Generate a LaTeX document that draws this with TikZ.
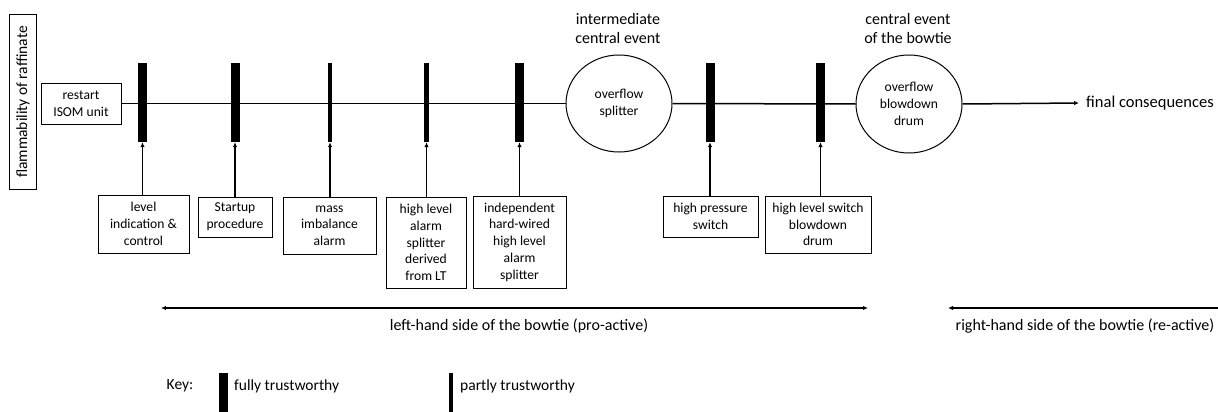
\documentclass[tikz,border=0pt]{standalone}
\usepackage{fontspec}
\setmainfont{Carlito}
\usetikzlibrary{shapes.geometric,arrows.meta}
\tikzset{
  boxtxt/.style={draw, line width=1pt, align=center, inner sep=0pt,
    font=\fontsize{13.6}{16.7}\selectfont},
  thickbar/.style={fill=black, draw=none, minimum width=9pt, minimum height=79pt, inner sep=0pt},
  thinbar/.style={fill=black, draw=none, minimum width=4.5pt, minimum height=79pt, inner sep=0pt},
  event/.style={draw, line width=1pt, ellipse, minimum width=106pt, minimum height=97pt,
    inner sep=0pt, align=center, font=\fontsize{13.6}{16.7}\selectfont},
  bigtxt/.style={align=center, inner sep=0pt, font=\fontsize{16}{18.7}\selectfont},
  mainln/.style={line width=1.5pt},
  arr/.style={line width=1.2pt, -{Latex[length=5pt,width=4.5pt]}},
  dblarr/.style={line width=1.5pt, {Latex[length=5pt,width=4.5pt]}-{Latex[length=5pt,width=4.5pt]}},
}
\begin{document}
\begin{tikzpicture}[x=1pt,y=-1pt]
\useasboundingbox (0,0) rectangle (1218,412);
% left boxes
\node[boxtxt, rotate=90, minimum width=174pt, minimum height=27.5pt,
  font=\fontsize{15.5}{18}\selectfont] (flam) at (23,102) {flammability of raffinate};
\node[boxtxt, minimum width=80pt, minimum height=41pt] (restart) at (81,103.5) {restart\\ISOM unit};
% events
\node[event] (split) at (619,103.5) {overflow\\splitter};
\node[event, minimum height=98pt] (drum) at (909,104) {overflow\\blowdown\\drum};
\node[bigtxt] (h1) at (618,28.5) {intermediate\\central event};
\node[bigtxt] (h2) at (908,28.5) {central event\\of the bowtie};
\node[bigtxt, anchor=west, inner xsep=7pt, font=\fontsize{16.5}{18.7}\selectfont] (final) at (1079,103) {final consequences};
% main line
\draw[mainln] (restart.east) -- (split.west);
\draw[mainln] (split.east) -- (drum.west);
\draw[arr, line width=1.5pt] (drum.east) -- (final.west);
% barriers
\node[thickbar] (bar1) at (142.5,102.5) {};
\node[thickbar] (bar2) at (235,102.5) {};
\node[thinbar]  (bar3) at (330,102.5) {};
\node[thinbar]  (bar4) at (426.5,102.5) {};
\node[thickbar] (bar5) at (519.5,102.5) {};
\node[thickbar] (bar6) at (710,102.5) {};
\node[thickbar] (bar7) at (820.5,102.5) {};
% barrier boxes
\node[boxtxt, minimum width=91pt, minimum height=58pt] (b1) at (143.5,224) {level\\indication \&\\control};
\node[boxtxt, minimum width=74pt, minimum height=40pt] (b2) at (235,217) {Startup\\procedure};
\node[boxtxt, minimum width=93pt, minimum height=57pt] (b3) at (329.5,225.5) {mass\\imbalance\\alarm};
\node[boxtxt, minimum width=80pt, minimum height=91pt] (b4) at (426,242.5) {high level\\alarm\\splitter\\derived\\from LT};
\node[boxtxt, minimum width=93pt, minimum height=92pt] (b5) at (519.5,242) {independent\\hard-wired\\high level\\alarm\\splitter};
\node[boxtxt, minimum width=95pt, minimum height=41pt] (b6) at (710.5,216.5) {high pressure\\switch};
\node[boxtxt, minimum width=106pt, minimum height=57pt] (b7) at (818,224.5) {high level switch\\blowdown\\drum};
\foreach \i in {1,...,7}{
  \draw[arr] (b\i.north -| bar\i.south) -- (bar\i.south);
}
% bottom arrows
\coordinate (l1) at (161,308);
\coordinate (l2) at (868,308);
\draw[dblarr] (l1) -- (l2);
\node[bigtxt] (lt) at (519,326) {left-hand side of the bowtie (pro-active)};
\coordinate (r1) at (948,308);
\coordinate (r2) at (1218,308);
\draw[line width=1.5pt, {Latex[length=5pt,width=4.5pt]}-] (r1) -- (r2);
\node[bigtxt] (rt) at (1085,326) {right-hand side of the bowtie (re-active)};
% key
\node[bigtxt, font=\fontsize{15.5}{18}\selectfont] (key) at (180,386) {Key:};
\node[thickbar, minimum height=39pt, anchor=north] (kb1) at (223.5,373) {};
\node[bigtxt, anchor=west, font=\fontsize{15.5}{18}\selectfont] (kt1) at (234,386) {fully trustworthy};
\node[thinbar, minimum width=4pt, minimum height=39pt, anchor=north] (kb2) at (451,373) {};
\node[bigtxt, anchor=west, font=\fontsize{15.5}{18}\selectfont] (kt2) at (460,386) {partly trustworthy};
\end{tikzpicture}
\end{document}
